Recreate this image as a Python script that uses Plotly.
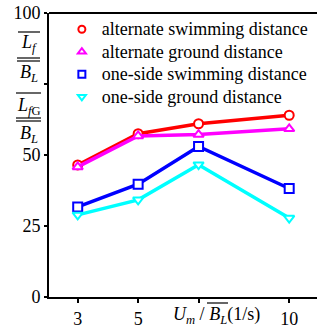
import plotly.graph_objects as go

x_vals = [3, 5, 7, 10]
alt_swim = [46.5, 57.5, 61.0, 64.0]
alt_ground = [45.8, 56.7, 57.2, 59.2]
one_swim = [31.7, 39.7, 53.0, 38.2]
one_ground = [28.9, 34.2, 46.6, 27.8]

names = ["alternate swimming distance", "alternate ground distance",
         "one-side swimming distance", "one-side ground distance"]
colors = ["#FF0000", "#FF00FF", "#0000FF", "#00FFFF"]
symbols = ["circle", "triangle-up", "square", "triangle-down"]
series = [alt_swim, alt_ground, one_swim, one_ground]

x_tickvals = [3, 5, 7, 10]
x_ticktext = ["3", "5", " ", "10"]
y_tickvals = [0, 25, 50, 75, 100]
y_ticktext = ["0", "25", "50", " ", "100"]

FONT = "Liberation Serif"

fig = go.Figure()
for name, col, sym, ys in zip(names, colors, symbols, series):
    fig.add_trace(go.Scatter(
        x=x_vals, y=ys, mode="lines+markers", showlegend=False,
        line=dict(color=col, width=3.5),
        marker=dict(symbol=sym, size=9, color="white", line=dict(color=col, width=2)),
    ))
for name, col, sym in zip(names, colors, symbols):
    fig.add_trace(go.Scatter(
        x=[None], y=[None], mode="markers",
        name='<span style="font-size:18px">' + name + '</span>',
        marker=dict(symbol=sym, size=7, color="white", line=dict(color=col, width=2)),
    ))

fig.update_layout(
    width=317, height=326,
    margin=dict(l=49, r=0, t=13, b=29, autoexpand=False),
    paper_bgcolor="white", plot_bgcolor="white",
    font=dict(family=FONT, size=18, color="black"),
    showlegend=True,
    legend=dict(x=0.048, y=1.0, xanchor="left", yanchor="top",
                bgcolor="rgba(0,0,0,0)", font=dict(family=FONT, size=15),
                tracegroupgap=0, itemwidth=30),
    xaxis=dict(range=[2.05, 10.92], tickvals=x_tickvals, ticktext=x_ticktext,
               showgrid=False, zeroline=False, showline=True, linecolor="black",
               linewidth=2, ticks="outside", ticklen=4, tickwidth=1.5,
               tickcolor="black", tickfont=dict(family=FONT, size=18)),
    yaxis=dict(range=[0, 100], tickvals=y_tickvals, ticktext=y_ticktext,
               showgrid=False, zeroline=False, showline=True, linecolor="black",
               linewidth=2, ticks="outside", ticklen=3, tickwidth=1.5,
               tickcolor="black", tickfont=dict(family=FONT, size=18)),
)

# top frame line
fig.add_shape(type="line", xref="paper", yref="paper", x0=0, x1=1, y0=1, y1=1,
              line=dict(color="black", width=2))

def px_to_paper_x(px):
    return (px - 49) / (317 - 49)

def px_to_paper_y(py):
    return (297 - py) / (297 - 13)

def hline(x0, x1, y):
    fig.add_shape(type="line", xref="paper", yref="paper",
                  x0=px_to_paper_x(x0), x1=px_to_paper_x(x1),
                  y0=px_to_paper_y(y), y1=px_to_paper_y(y),
                  line=dict(color="black", width=1.2))

def label(text, x, y, size=18):
    fig.add_annotation(text=text, xref="paper", yref="paper",
                       x=px_to_paper_x(x), y=px_to_paper_y(y),
                       xanchor="center", yanchor="middle", showarrow=False,
                       font=dict(family=FONT, size=size, color="black"))

# y-axis title built from stacked fractions
hline(18, 40, 32)
label("<i>L</i><sub><i>f</i></sub>", 29, 44)
hline(17, 40, 58)
hline(17, 40, 61)
label("<i>B</i><sub><i>L</i></sub>", 29, 73)

hline(16, 41, 93)
label("<i>L</i><sub><i>f</i>G</sub>", 29, 106)
hline(16, 41, 118)
hline(16, 41, 121)
label("<i>B</i><sub><i>L</i></sub>", 29, 134)

# x-axis title
label("<i>U</i><sub><i>m</i></sub> / <i>B</i><sub><i>L</i></sub>(1/s)", 216, 315)
hline(207, 228, 303)

fig.write_html("out.html", config={"displayModeBar": False},
               post_script="document.body.style.margin='0';")
